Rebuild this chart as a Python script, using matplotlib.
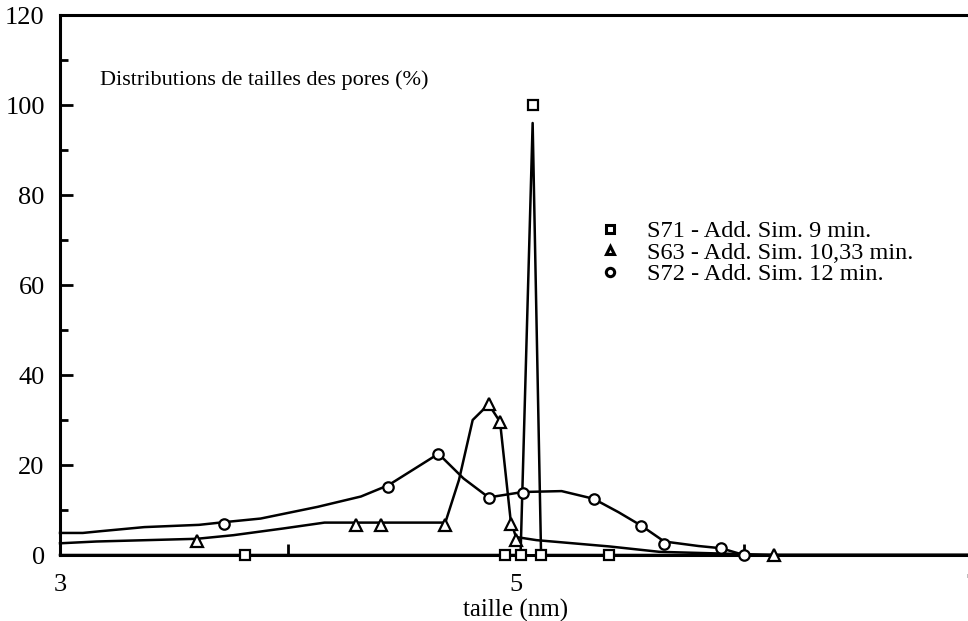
import matplotlib.pyplot as plt
from matplotlib.lines import Line2D

plt.rcParams['font.family'] = ['Liberation Serif', 'DejaVu Serif']

# Points mesurés (marqueurs)
s71_x = [3.81, 4.95, 5.02, 5.073, 5.11, 5.41]
s71_y = [0, 0, 0, 100, 0, 0]
s63_x = [3.60, 4.30, 4.41, 4.69, 4.88, 4.93, 4.977, 5.0, 6.13]
s63_y = [3.2, 6.7, 6.7, 6.7, 33.5, 29.6, 6.9, 3.3, 0]
s72_x = [3.72, 4.44, 4.66, 4.88, 5.03, 5.34, 5.55, 5.65, 5.90, 6.0]
s72_y = [7.0, 15.2, 22.5, 12.6, 13.8, 12.5, 6.5, 2.4, 1.5, 0]

# Tracé des courbes lissées
s71_cx = [3.0, 3.81, 4.95, 5.02, 5.073, 5.11, 5.41, 7.0]
s71_cy = [0, 0, 0, 0, 96, 0, 0, 0]
s63_cx = [3.0, 3.16, 3.60, 3.76, 3.98, 4.16, 4.30, 4.41, 4.69, 4.75, 4.81, 4.88,
          4.93, 4.977, 5.0, 5.09, 5.41, 5.63, 6.13, 7.0]
s63_cy = [2.6, 3.0, 3.6, 4.4, 5.9, 7.2, 7.2, 7.2, 7.2, 16.7, 30.0, 33.5,
          29.6, 7.5, 4.0, 3.3, 1.9, 0.7, 0, 0]
s72_cx = [3.0, 3.10, 3.18, 3.37, 3.61, 3.72, 3.88, 4.13, 4.32, 4.44, 4.55, 4.66,
          4.77, 4.88, 5.03, 5.20, 5.34, 5.45, 5.55, 5.65, 5.80, 5.90, 6.0, 7.0]
s72_cy = [4.9, 4.9, 5.3, 6.2, 6.7, 7.3, 8.1, 10.7, 13.0, 15.5, 19.0, 22.5,
          17.0, 12.8, 14.0, 14.2, 12.5, 9.5, 6.5, 3.0, 2.0, 1.5, 0, 0]

labels = ['S71 - Add. Sim. 9 min.', 'S63 - Add. Sim. 10,33 min.', 'S72 - Add. Sim. 12 min.']

fig = plt.figure(figsize=(9.68, 6.21), dpi=100)
ax = fig.add_axes([60 / 968, 66 / 621, 912 / 968, 540 / 621])

lw = 1.8
ax.plot(s72_cx, s72_cy, color='black', lw=lw, clip_on=False)
ax.plot(s63_cx, s63_cy, color='black', lw=lw, clip_on=False)
ax.plot(s71_cx, s71_cy, color='black', lw=lw, clip_on=False)

mk = dict(color='black', ls='none', mfc='white', mew=1.6, clip_on=False, zorder=5)
ax.plot(s72_x, s72_y, marker='o', ms=7.5, **mk)
ax.plot(s63_x, s63_y, marker='^', ms=8, **mk)
ax.plot(s71_x, s71_y, marker='s', ms=7, **mk)

ax.set_xlim(3, 7)
ax.set_ylim(0, 120)
ax.set_xticks([3, 5, 7])
ax.set_xticks([4, 6], minor=True)
ax.set_yticks(range(0, 121, 20))
ax.set_yticks(range(10, 120, 20), minor=True)
ax.tick_params(axis='both', which='both', direction='in', labelsize=19, width=2)
ax.tick_params(axis='y', which='major', length=9, pad=11)
ax.tick_params(axis='y', which='minor', length=6)
ax.tick_params(axis='x', which='major', length=0, pad=14)
ax.tick_params(axis='x', which='minor', length=8)
for s in ax.spines.values():
    s.set_linewidth(2.2)

ax.set_xlabel('taille (nm)', fontsize=18, labelpad=2)
ax.text(0.044, 0.88, 'Distributions de tailles des pores (%)', transform=ax.transAxes,
        fontsize=16, va='center', ha='left')

handles = [Line2D([], [], marker=m, color='black', ls='none', mfc='white', mew=2.2, ms=6)
           for m in ['s', '^', 'o']]
ax.legend(handles, labels, loc='upper left', bbox_to_anchor=(0.59, 0.62), frameon=False,
          fontsize=17.5, handlelength=1.0, handletextpad=1.0, labelspacing=-0.02,
          borderpad=0, borderaxespad=0)

fig.savefig('out.png', dpi=100)
